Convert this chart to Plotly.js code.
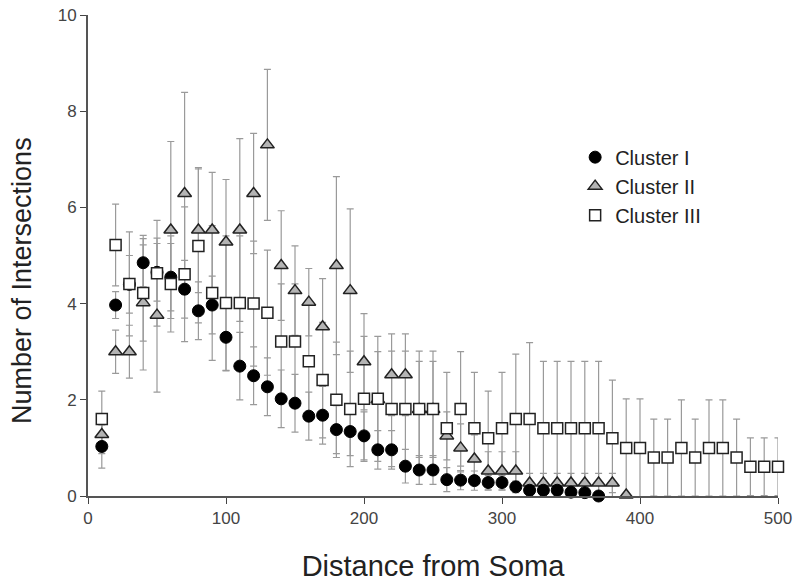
<!DOCTYPE html>
<html>
<head>
<meta charset="utf-8">
<script src="https://cdn.plot.ly/plotly-3.0.1.min.js"></script>
<style>html,body{margin:0;padding:0;background:#fff;}#chart{width:800px;height:588px;}</style>
</head>
<body>
<div id="chart"></div>
<script>
// Distance from soma (x)
var x1 = [10,20,30,40,50,60,70,80,90,100,110,120,130,140,150,160,170,180,190,200,210,220,230,240,250,260,270,280,290,300,310,320,330,340,350,360,370];
var c1 = [1.03,3.97,4.40,4.85,4.65,4.55,4.30,3.85,3.97,3.30,2.70,2.50,2.27,2.02,1.93,1.66,1.68,1.38,1.34,1.25,0.96,0.96,0.62,0.54,0.54,0.34,0.33,0.32,0.28,0.28,0.19,0.12,0.12,0.12,0.08,0.07,0.00];
var e1 = [0.45,0.28,0.60,0.50,0.60,0.70,0.60,0.60,0.60,0.70,0.70,0.60,0.60,0.60,0.60,0.50,0.60,0.50,0.50,0.50,0.40,0.40,0.35,0.30,0.30,0.25,0.20,0.20,0.15,0.15,0.12,0.10,0.10,0.10,0.08,0.07,0.00];

var x2 = [10,20,30,40,50,60,70,80,90,100,110,120,130,140,150,160,170,180,190,200,210,220,230,240,250,260,270,280,290,300,310,320,330,340,350,360,370,380,390];
var c2 = [1.28,3.00,3.00,4.02,3.76,5.53,6.29,5.53,5.53,5.28,5.53,6.29,7.30,4.79,4.27,4.03,3.52,4.79,4.27,2.79,2.00,2.52,2.52,1.80,1.80,1.25,1.00,0.77,0.52,0.52,0.52,0.27,0.27,0.27,0.27,0.27,0.27,0.27,0.02];
var e2 = [0.40,0.45,0.55,1.40,1.60,1.84,2.10,1.30,1.20,1.30,1.90,1.25,1.57,1.14,0.93,0.70,1.00,1.85,1.70,1.00,1.00,0.85,0.85,1.00,1.00,0.50,0.50,0.50,0.40,0.40,0.40,0.20,0.20,0.20,0.20,0.20,0.20,0.20,0.00];

var x3 = [10,20,30,40,50,60,70,80,90,100,110,120,130,140,150,160,170,180,190,200,210,220,230,240,250,260,270,280,290,300,310,320,330,340,350,360,370,380,390,400,410,420,430,440,450,460,470,480,490,500];
var c3 = [1.60,5.22,4.41,4.22,4.63,4.41,4.61,5.20,4.22,4.01,4.01,4.00,3.81,3.21,3.21,2.80,2.41,2.00,1.81,2.02,2.02,1.81,1.81,1.81,1.81,1.41,1.81,1.41,1.20,1.41,1.60,1.60,1.41,1.41,1.41,1.41,1.41,1.20,1.00,1.00,0.80,0.80,1.00,0.80,1.00,1.00,0.80,0.61,0.61,0.61];
var e3 = [0.58,0.85,1.08,1.00,1.10,1.00,1.40,1.60,1.40,1.40,1.40,1.30,1.30,1.20,1.20,1.20,1.20,1.20,1.20,1.30,1.30,1.20,1.20,1.20,1.20,1.16,1.19,1.16,0.98,1.16,1.35,1.59,1.39,1.39,1.39,1.39,1.39,1.21,1.02,1.02,0.80,0.80,1.00,0.80,1.00,1.00,0.80,0.60,0.60,0.60];

var names = ['Cluster I','Cluster II','Cluster III'];
var xTicks = [0,100,200,300,400,500];
var yTicks = [0,2,4,6,8,10];
var xTitle = 'Distance from Soma';
var yTitle = 'Number of Intersections';

var markers = [
  {symbol:'circle', size:12, color:'#000', line:{color:'#000', width:1}},
  {symbol:'triangle-up', size:12, color:'#b4b4b4', line:{color:'#222', width:1.5}},
  {symbol:'square', size:11, color:'#fff', line:{color:'#222', width:1.5}}
];
var series = [[x1,c1,e1],[x2,c2,e2],[x3,c3,e3]];

var traces = [];
// error bars first (beneath all markers)
series.forEach(function(s){
  traces.push({x:s[0], y:s[1], type:'scatter', mode:'markers', showlegend:false, hoverinfo:'skip', cliponaxis:false,
    marker:{size:1, color:'rgba(0,0,0,0)'},
    error_y:{type:'data', array:s[2], visible:true, color:'#9a9a9a', thickness:1.2, width:3.5}});
});
// markers: triangles, then circles, then squares on top
[1,0,2].forEach(function(i){
  traces.push({x:series[i][0], y:series[i][1], name:names[i], legendrank:i+1, type:'scatter', mode:'markers',
    cliponaxis:false, marker:markers[i]});
});

var layout = {
  width:800, height:588,
  margin:{l:88, r:22, t:15, b:92},
  paper_bgcolor:'#fff', plot_bgcolor:'#fff',
  font:{family:'Liberation Sans, Arial, sans-serif', color:'#333'},
  showlegend:true,
  legend:{x:0.706, y:0.745, xanchor:'left', yanchor:'top', font:{size:20, color:'#222'}, bgcolor:'rgba(0,0,0,0)', itemwidth:30, traceorder:'normal'},
  xaxis:{range:[0,500], tickvals:xTicks, ticktext:xTicks.map(String), ticks:'outside', ticklen:6, tickcolor:'#444',
         showline:true, linecolor:'#555', linewidth:2, showgrid:false, zeroline:false,
         tickfont:{size:17, color:'#444'},
         title:{text:xTitle, font:{size:29, color:'#222'}, standoff:28}},
  yaxis:{range:[0,10], tickvals:yTicks, ticktext:yTicks.map(String), ticks:'outside', ticklen:6, tickcolor:'#444',
         showline:true, linecolor:'#555', linewidth:2, showgrid:false, zeroline:false,
         tickfont:{size:17, color:'#444'}},
  annotations:[{text:yTitle, xref:'paper', yref:'paper', x:-0.0957, y:0.449, xanchor:'center', yanchor:'middle',
    textangle:-90, showarrow:false, font:{size:27, color:'#222'}}]
};

Plotly.newPlot('chart', traces, layout, {displayModeBar:false, staticPlot:true});
</script>
</body>
</html>
